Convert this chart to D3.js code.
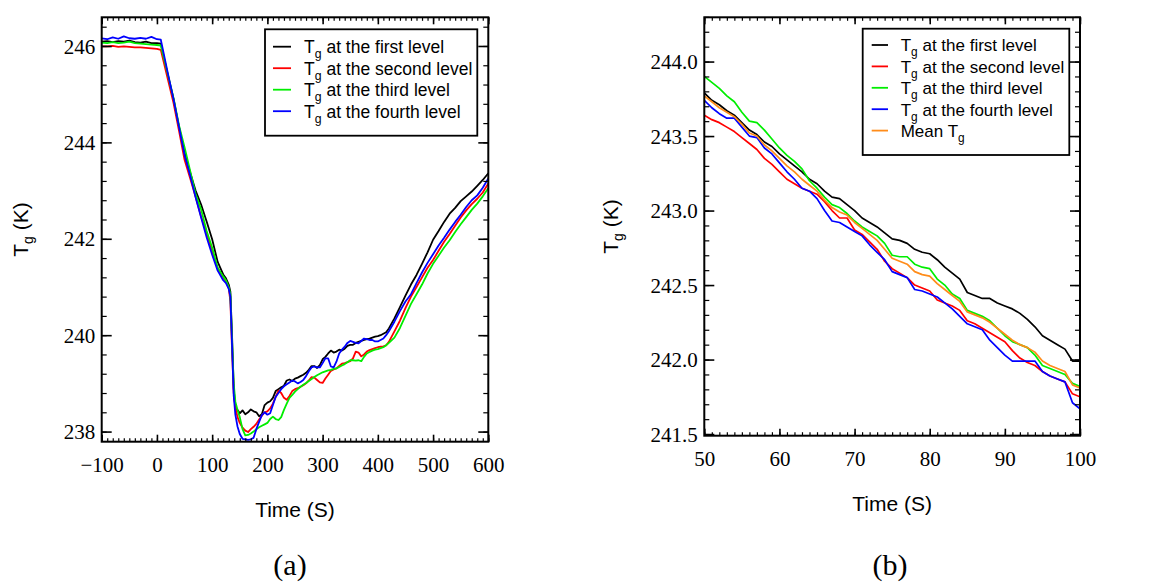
<!DOCTYPE html>
<html><head><meta charset="utf-8">
<script src="https://cdn.jsdelivr.net/npm/d3@7"></script>
<style>body{margin:0;background:#fff}</style>
</head><body>
<svg id="c" width="1163" height="588" xmlns="http://www.w3.org/2000/svg"></svg>
<script>
// ---------- Panel (a) data ----------
const timeA = [-100,-90,-80,-70,-60,-50,-40,-30,-20,-10,0,7,
  20,30,40,50,60,70,80,90,100,110,120,
  125,130,133,136,139,142,146,
  150,155,160,165,170,175,180,185,190,195,200,205,210,215,220,225,230,235,240,245,250,255,260,265,270,275,280,285,290,295,300,305,310,315,320,325,330,335,340,345,350,355,360,365,370,375,380,385,390,395,400,405,410,415,420,
  430,440,450,460,470,480,490,500,510,520,530,540,550,560,570,580,590,600];

const levelA1 = [246.09,246.10,246.08,246.10,246.09,246.11,246.08,246.07,246.09,246.06,246.06,246.05,
  245.38,244.90,244.32,243.79,243.38,243.00,242.71,242.36,241.99,241.52,241.26,
  241.18,241.05,240.90,240.00,238.90,238.48,238.45,
  238.38,238.44,238.36,238.40,238.46,238.42,238.40,238.32,238.36,238.55,238.60,238.63,238.70,238.84,238.88,238.92,238.95,239.06,239.08,239.05,239.10,239.12,239.15,239.18,239.22,239.28,239.36,239.36,239.32,239.38,239.50,239.55,239.62,239.68,239.64,239.66,239.70,239.68,239.72,239.78,239.80,239.80,239.84,239.86,239.88,239.90,239.92,239.93,239.95,239.97,239.98,240.00,240.03,240.06,240.14,
  240.35,240.58,240.82,241.05,241.25,241.48,241.72,241.98,242.16,242.35,242.52,242.64,242.78,242.88,242.98,243.10,243.22,243.36];

const levelA2 = [245.99,245.99,246.00,245.98,245.99,245.98,245.97,245.97,245.96,245.95,245.94,245.92,
  245.30,244.82,244.24,243.64,243.26,242.87,242.46,242.12,241.75,241.38,241.20,
  241.12,240.98,240.70,239.70,238.80,238.50,238.30,
  238.18,238.08,238.02,237.99,238.05,238.10,238.16,238.25,238.33,238.40,238.42,238.48,238.58,238.72,238.85,238.80,238.70,238.66,238.74,238.84,238.88,238.90,238.93,238.96,239.00,239.06,239.13,239.12,239.07,239.02,239.01,239.10,239.18,239.26,239.29,239.31,239.36,239.41,239.42,239.44,239.46,239.52,239.66,239.64,239.56,239.60,239.66,239.69,239.71,239.73,239.75,239.76,239.77,239.79,239.86,
  240.08,240.30,240.56,240.80,241.00,241.20,241.40,241.56,241.75,241.94,242.10,242.27,242.44,242.59,242.72,242.83,242.96,243.15];

const levelA3 = [246.07,246.06,246.08,246.06,246.07,246.09,246.06,246.05,246.04,246.03,246.02,246.01,
  245.40,244.92,244.35,243.90,243.42,242.93,242.61,242.16,241.82,241.40,241.22,
  241.14,241.00,240.85,239.90,239.00,238.62,238.45,
  238.30,238.05,237.92,237.93,237.96,238.00,238.05,238.09,238.12,238.15,238.18,238.26,238.31,238.26,238.24,238.30,238.45,238.58,238.70,238.76,238.83,238.88,238.93,238.97,239.01,239.05,239.09,239.13,239.17,239.20,239.23,239.25,239.27,239.28,239.30,239.31,239.34,239.37,239.40,239.44,239.48,239.48,239.47,239.48,239.46,239.55,239.62,239.65,239.68,239.70,239.71,239.73,239.75,239.79,239.84,
  239.95,240.15,240.40,240.65,240.85,241.05,241.28,241.48,241.65,241.82,241.97,242.14,242.30,242.45,242.60,242.73,242.88,243.05];

const levelA4 = [246.16,246.14,246.18,246.15,246.20,246.16,246.15,246.17,246.15,246.19,246.14,246.13,
  245.42,244.90,244.32,243.74,243.32,242.86,242.44,242.03,241.67,241.34,241.14,
  241.08,240.96,240.80,239.80,238.75,238.35,238.10,
  237.95,237.85,237.84,237.83,237.84,237.87,238.05,238.20,238.34,238.40,238.35,238.38,238.55,238.72,238.80,238.88,238.94,238.98,239.02,239.06,239.04,239.00,239.03,239.07,239.15,239.25,239.33,239.35,239.33,239.33,239.42,239.52,239.52,239.35,239.33,239.45,239.62,239.70,239.76,239.84,239.88,239.86,239.84,239.83,239.88,239.93,239.92,239.90,239.90,239.87,239.87,239.90,239.93,240.00,240.08,
  240.28,240.50,240.70,240.85,241.08,241.30,241.50,241.68,241.86,242.02,242.19,242.35,242.50,242.66,242.80,242.90,243.06,243.25];

const xTicksA = [-100,0,100,200,300,400,500,600];
const yTicksA = [238,240,242,244,246];

// ---------- Panel (b) data ----------
const timeB = [50,51,52,53,54,55,56,57,58,59,60,61,62,63,64,65,66,67,68,69,70,71,72,73,74,75,76,77,78,79,80,81,82,83,84,85,86,87,88,89,90,91,92,93,94,95,96,97,98,99,100];

const levelB1 = [243.79,243.74,243.71,243.67,243.64,243.59,243.54,243.51,243.46,243.43,243.38,243.34,243.30,243.26,243.21,243.18,243.13,243.09,243.08,243.04,243.00,242.95,242.92,242.89,242.85,242.81,242.80,242.78,242.74,242.72,242.71,242.67,242.62,242.58,242.54,242.45,242.43,242.41,242.41,242.38,242.36,242.34,242.31,242.27,242.22,242.16,242.13,242.10,242.07,241.99,241.99];
const levelB2 = [243.64,243.61,243.59,243.56,243.53,243.49,243.45,243.41,243.35,243.31,243.26,243.21,243.18,243.15,243.13,243.11,243.06,243.00,242.95,242.95,242.87,242.84,242.79,242.74,242.66,242.61,242.58,242.55,242.50,242.48,242.46,242.40,242.38,242.36,242.33,242.26,242.24,242.21,242.18,242.15,242.12,242.06,242.01,241.98,241.96,241.92,241.89,241.87,241.85,241.77,241.75];
const levelB3 = [243.90,243.86,243.82,243.77,243.73,243.66,243.60,243.59,243.54,243.48,243.42,243.37,243.33,243.28,243.20,243.15,243.09,243.04,243.02,242.98,242.93,242.89,242.86,242.83,242.78,242.70,242.69,242.69,242.64,242.62,242.61,242.54,242.50,242.44,242.41,242.33,242.31,242.29,242.26,242.21,242.16,242.12,242.10,242.08,242.03,241.96,241.94,241.92,241.90,241.84,241.82];
const levelB4 = [243.74,243.69,243.65,243.62,243.62,243.56,243.50,243.49,243.42,243.38,243.32,243.26,243.21,243.15,243.13,243.08,243.00,242.93,242.92,242.89,242.86,242.83,242.77,242.72,242.67,242.59,242.57,242.55,242.47,242.46,242.44,242.42,242.38,242.34,242.29,242.24,242.22,242.20,242.13,242.08,242.03,241.99,241.99,241.99,241.99,241.92,241.89,241.87,241.85,241.71,241.67];
const meanB = [243.77,243.73,243.69,243.66,243.63,243.58,243.52,243.50,243.44,243.40,243.35,243.30,243.26,243.21,243.17,243.13,243.07,243.02,242.99,242.97,242.92,242.88,242.84,242.80,242.74,242.68,242.66,242.64,242.59,242.57,242.56,242.51,242.47,242.43,242.39,242.32,242.30,242.28,242.25,242.21,242.17,242.13,242.10,242.08,242.05,241.99,241.96,241.94,241.92,241.83,241.81];

const xTicksB = [50,60,70,80,90,100];
const yTicksB = [241.5,242.0,242.5,243.0,243.5,244.0];

const levelNames = ["at the first level","at the second level","at the third level","at the fourth level"];
const colors = ["#000000","#ff0000","#00ee00","#0000ff","#ff8c1a"];

// ---------- drawing ----------
const svg = d3.select("#c");
const SERIF = "Liberation Serif";
const SANS = "Liberation Sans";

function drawPanel(cfg){
  const {left, top, right, bottom} = cfg.box;
  const x = d3.scaleLinear().domain(cfg.xDomain).range([left,right]);
  const y = d3.scaleLinear().domain(cfg.yDomain).range([bottom,top]);
  const g = svg.append("g");
  const clipId = cfg.id + "clip";
  svg.append("clipPath").attr("id",clipId).append("rect")
    .attr("x",left).attr("y",top).attr("width",right-left).attr("height",bottom-top);
  const line = d3.line().x(d=>x(d[0])).y(d=>y(d[1]));
  cfg.series.forEach(s=>{
    g.append("path")
      .datum(cfg.time.map((t,i)=>[t,s.values[i]]))
      .attr("clip-path",`url(#${clipId})`)
      .attr("fill","none").attr("stroke",s.color).attr("stroke-width",cfg.lw)
      .attr("stroke-linejoin","round").attr("d",line);
  });

  function axis(gen, tr, vals, len, fmt, sw){
    const a = gen.tickValues(vals).tickSize(-len);
    a.tickFormat(fmt || (()=>""));
    const ag = g.append("g").attr("transform",tr).call(a);
    ag.select(".domain").remove();
    ag.selectAll("line").attr("stroke-width",sw).attr("stroke","#000");
    return ag;
  }
  // minor ticks
  axis(d3.axisBottom(x), `translate(0,${bottom})`, cfg.xMinor, 3.5, null, 1.2);
  axis(d3.axisTop(x), `translate(0,${top})`, cfg.xMinor, 3.5, null, 1.2);
  axis(d3.axisLeft(y), `translate(${left},0)`, cfg.yMinor, 5, null, 1.2);
  axis(d3.axisRight(y), `translate(${right},0)`, cfg.yMinor, 5, null, 1.2);
  // major ticks
  const bx = axis(d3.axisBottom(x), `translate(0,${bottom})`, cfg.xTicks, 7, cfg.xFmt, 1.6);
  bx.attr("font-family",null).attr("font-size",null);
  bx.selectAll("text").attr("y",30).attr("dy",0).attr("fill","#000")
    .style("font-family",SERIF).style("font-size","21px");
  axis(d3.axisTop(x), `translate(0,${top})`, cfg.xTicks, 7, null, 1.6);
  const ly = axis(d3.axisLeft(y).tickPadding(6.5), `translate(${left},0)`, cfg.yTicks, 10, cfg.yFmt, 1.6);
  ly.attr("font-family",null).attr("font-size",null);
  ly.selectAll("text").attr("fill","#000").attr("dy","0.34em")
    .style("font-family",SERIF).style("font-size","21px");
  axis(d3.axisRight(y), `translate(${right},0)`, cfg.yTicks, 10, null, 1.6);

  // frame
  g.append("rect").attr("x",left).attr("y",top).attr("width",right-left).attr("height",bottom-top)
    .attr("fill","none").attr("stroke","#000").attr("stroke-width",2);

  // axis titles
  g.append("text").attr("x",(left+right)/2).attr("y",bottom+75.5).attr("text-anchor","middle")
    .style("font-family",SANS).style("font-size","21px").text("Time (S)");
  const yt = g.append("text").attr("transform",`translate(${cfg.yTitleX},${(top+bottom)/2}) rotate(-90)`)
    .attr("text-anchor","middle").style("font-family",SANS).style("font-size","21px");
  yt.append("tspan").text("T");
  yt.append("tspan").style("font-size","14px").attr("dy",5).text("g");
  yt.append("tspan").attr("dy",-5).text(" (K)");

  // panel label
  g.append("text").attr("x",cfg.labelX).attr("y",575).attr("text-anchor","middle")
    .style("font-family",SERIF).style("font-size","30px").text(cfg.label);

  // legend
  const L = cfg.legend;
  g.append("rect").attr("x",L.x0).attr("y",L.y0).attr("width",L.x1-L.x0).attr("height",L.y1-L.y0)
    .attr("fill","#fff").attr("stroke","#000").attr("stroke-width",1.8);
  cfg.series.forEach((s,i)=>{
    const cy = L.firstRow + i*L.step;
    g.append("line").attr("x1",L.lx0).attr("x2",L.lx1).attr("y1",cy).attr("y2",cy)
      .attr("stroke",s.color).attr("stroke-width",1.8);
    const t = g.append("text").attr("x",L.tx).attr("y",cy+6.3)
      .style("font-family",SANS).style("font-size",L.fs+"px");
    if (s.pre) t.append("tspan").text(s.pre);
    t.append("tspan").text("T");
    t.append("tspan").style("font-size",(L.fs*0.7)+"px").attr("dy",5).text("g");
    if (s.post) t.append("tspan").attr("dy",-5).text(" " + s.post);
  });
}

const fmtInt = d3.format("d");
const fmt1 = d3.format(".1f");

drawPanel({
  id:"a", box:{left:101.7, top:17.3, right:488.3, bottom:441.7}, lw:1.8,
  xDomain:[-100,600], yDomain:[237.79,246.595],
  time: timeA,
  series: [
    {values:levelA1, color:colors[0], post:levelNames[0]},
    {values:levelA2, color:colors[1], post:levelNames[1]},
    {values:levelA3, color:colors[2], post:levelNames[2]},
    {values:levelA4, color:colors[3], post:levelNames[3]}
  ],
  xTicks:xTicksA, xMinor:d3.range(-100,601,10),
  yTicks:yTicksA, yMinor:d3.range(0,23).map(i=>+(237.6+i*0.4).toFixed(1)).filter(v=>v>=237.79&&v<=246.6),
  xFmt:fmtInt, yFmt:fmtInt, yTitleX:28, label:"(a)", labelX:290,
  legend:{x0:265, y0:29.3, x1:477.3, y1:135.7, lx0:273, lx1:291, tx:304, firstRow:46.7, step:21.5, fs:17.5}
});

drawPanel({
  id:"b", box:{left:704.3, top:17.3, right:1080, bottom:435.7}, lw:1.7,
  xDomain:[50,100], yDomain:[241.489,244.297],
  time: timeB,
  series: [
    {values:levelB1, color:colors[0], post:levelNames[0]},
    {values:levelB2, color:colors[1], post:levelNames[1]},
    {values:levelB3, color:colors[2], post:levelNames[2]},
    {values:levelB4, color:colors[3], post:levelNames[3]},
    {values:meanB, color:colors[4], pre:"Mean "}
  ],
  xTicks:xTicksB, xMinor:d3.range(50,101,1),
  yTicks:yTicksB, yMinor:d3.range(0,29).map(i=>+(241.5+i*0.1).toFixed(1)),
  xFmt:fmtInt, yFmt:fmt1, yTitleX:618, label:"(b)", labelX:890,
  legend:{x0:862.7, y0:28.7, x1:1069.3, y1:155, lx0:871.7, lx1:888, tx:900.7, firstRow:45, step:21.4, fs:17}
});
</script>
</body></html>
